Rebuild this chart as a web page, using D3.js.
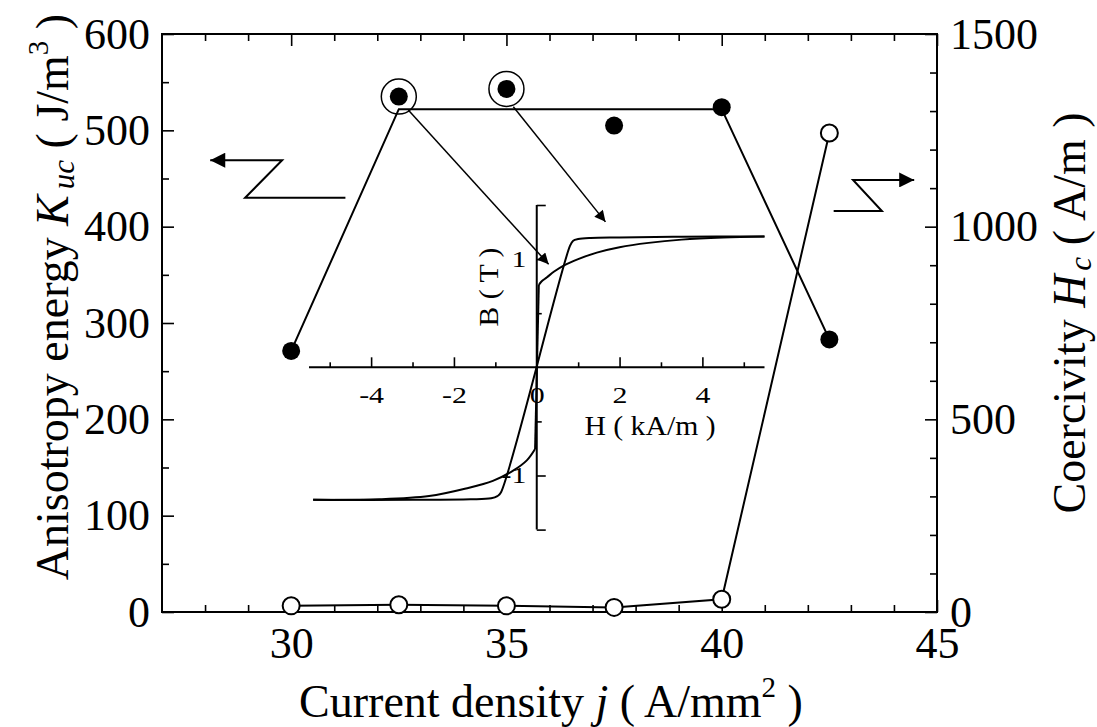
<!DOCTYPE html>
<html>
<head>
<meta charset="utf-8">
<script src="https://cdn.jsdelivr.net/npm/d3@7"></script>
<style>
  body { margin: 0; background: #fff; }
  svg text { font-family: "Times New Roman", "Liberation Serif", Tinos, "DejaVu Serif", serif; fill: #000; }
</style>
</head>
<body>
<script>
// main data: current density vs anisotropy energy (filled) and coercivity (open)
const currentDensity = [30, 32.5, 35, 37.5, 40, 42.5];
const anisotropyK = [271, 535, 543, 505, 524, 283];
const coercivityH = [16, 19, 16, 12, 33, 1243];

// guide line drawn through the filled points
const guideJ = [30, 32.5, 40, 42.5];
const guideK = [271, 522, 522, 283];

// points that are circled and pointed at the inset
const circledJ = [32.5, 35];

// tick values
const xMajor = [30, 35, 40, 45];
const xMinor = [28, 29, 31, 32, 33, 34, 36, 37, 38, 39, 41, 42, 43, 44];
const kMajor = [0, 100, 200, 300, 400, 500, 600];
const kMinor = [50, 150, 250, 350, 450, 550];
const hcMajor = [0, 500, 1000, 1500];
const hcMinor = [100, 200, 300, 400, 600, 700, 800, 900, 1100, 1200, 1300, 1400];

// inset: B-H loops
const loopA_H = [-5.4, -3.0, -1.6, -1.1, -0.95, -0.87, 0.8, 0.88, 1.0, 1.3, 2.0, 3.5, 5.5];
const loopA_B = [-1.225, -1.225, -1.22, -1.21, -1.19, -1.16, 1.12, 1.17, 1.185, 1.195, 1.2, 1.207, 1.21];
const loopB_upH = [0.05, 0.12, 0.24, 0.42, 0.65, 1.0, 1.45, 2.0, 2.7, 3.5, 4.5, 5.5];
const loopB_upB = [0.76, 0.795, 0.83, 0.885, 0.94, 1.0, 1.06, 1.11, 1.15, 1.18, 1.2, 1.21];
const loopB_jumpH = [-0.04, 0.05];
const loopB_jumpB = [-0.755, 0.76];
const loopB_loH = [-0.04, -0.24, -0.57, -1.06, -1.71, -2.6, -3.8, -5.4];
const loopB_loB = [-0.755, -0.86, -0.955, -1.05, -1.12, -1.19, -1.22, -1.225];
const insetHMajor = [-4, -2, 0, 2, 4];
const insetHMinor = [-5, -3, -1, 1, 3, 5];
const insetBMajor = [-1.5, -1, 1, 1.5];
const insetBMinor = [-0.5, 0.5];

const width = 1097, height = 727;
const serif = "'Times New Roman', 'Liberation Serif', Tinos, 'DejaVu Serif', serif";
const svg = d3.select("body").append("svg")
    .attr("width", width)
    .attr("height", height)
    .attr("font-family", serif);

const x = d3.scaleLinear().domain([27, 45]).range([162, 937]);
const yK = d3.scaleLinear().domain([0, 600]).range([612, 34]);
const yH = d3.scaleLinear().domain([0, 1500]).range([612, 34]);

// inset scales
const hx = d3.scaleLinear().domain([-5.5, 5.5]).range([309, 764.5]);
const by = d3.scaleLinear().domain([-1.5, 1.5]).range([529.6, 205]);

const plain = d => String(d);

// arrow heads
const defs = svg.append("defs");
function addHead(id, w, h) {
    defs.append("marker")
        .attr("id", id)
        .attr("viewBox", "0 0 10 10")
        .attr("refX", 10)
        .attr("refY", 5)
        .attr("markerUnits", "userSpaceOnUse")
        .attr("markerWidth", w)
        .attr("markerHeight", h)
        .attr("orient", "auto")
        .append("path")
        .attr("d", "M0,0 L10,5 L0,10 z")
        .attr("fill", "#000");
}
addHead("bigHead", 18, 15);
addHead("smallHead", 16, 11);

// ---------- axes ----------
function styleAxis(g, size) {
    g.attr("font-family", serif);
    g.select(".domain").remove();
    g.selectAll(".tick line").attr("stroke", "#000").attr("stroke-width", 1.6);
    g.selectAll("text")
        .style("font-family", serif)
        .attr("font-size", size)
        .attr("fill", "#000");
}

svg.append("g").attr("transform", "translate(162,0)")
    .call(d3.axisLeft(yK).tickValues(kMajor).tickSize(-12).tickPadding(12).tickFormat(plain))
    .call(g => styleAxis(g, 44));
svg.append("g").attr("transform", "translate(162,0)")
    .call(d3.axisLeft(yK).tickValues(kMinor).tickSize(-7).tickFormat(""))
    .call(g => styleAxis(g, 44));

svg.append("g").attr("transform", "translate(937,0)")
    .call(d3.axisRight(yH).tickValues(hcMajor).tickSize(-12).tickPadding(13).tickFormat(plain))
    .call(g => styleAxis(g, 44));
svg.append("g").attr("transform", "translate(937,0)")
    .call(d3.axisRight(yH).tickValues(hcMinor).tickSize(-7).tickFormat(""))
    .call(g => styleAxis(g, 44));

svg.append("g").attr("transform", "translate(0,612)")
    .call(d3.axisBottom(x).tickValues(xMajor).tickSize(-12).tickPadding(15).tickFormat(plain))
    .call(g => styleAxis(g, 44));
svg.append("g").attr("transform", "translate(0,612)")
    .call(d3.axisBottom(x).tickValues(xMinor).tickSize(-7).tickFormat(""))
    .call(g => styleAxis(g, 44));

svg.append("g").attr("transform", "translate(0,34)")
    .call(d3.axisTop(x).tickValues(xMajor).tickSize(-12).tickFormat(""))
    .call(g => styleAxis(g, 44));
svg.append("g").attr("transform", "translate(0,34)")
    .call(d3.axisTop(x).tickValues(xMinor).tickSize(-7).tickFormat(""))
    .call(g => styleAxis(g, 44));

// frame
svg.append("rect")
    .attr("x", 162).attr("y", 34)
    .attr("width", 937 - 162).attr("height", 612 - 34)
    .attr("fill", "none")
    .attr("stroke", "#000")
    .attr("stroke-width", 2);

// axis titles
const xTitle = svg.append("text")
    .attr("x", 551).attr("y", 717)
    .attr("text-anchor", "middle")
    .attr("font-size", 46);
xTitle.append("tspan").text("Current density ");
xTitle.append("tspan").attr("font-style", "italic").text("j");
xTitle.append("tspan").text(" ( A/mm");
xTitle.append("tspan").attr("font-size", 29).attr("dy", -20).text("2");
xTitle.append("tspan").attr("dy", 20).text(" )");

const yTitle = svg.append("text")
    .attr("transform", "translate(68,297) rotate(-90)")
    .attr("text-anchor", "middle")
    .attr("font-size", 46);
yTitle.append("tspan").text("Anisotropy energy ");
yTitle.append("tspan").attr("font-style", "italic").text("K");
yTitle.append("tspan").attr("font-style", "italic").attr("font-size", 31).attr("dx", 6).attr("dy", 6).text("uc");
yTitle.append("tspan").attr("dy", -6).text(" ( J/m");
yTitle.append("tspan").attr("font-size", 29).attr("dy", -20).text("3");
yTitle.append("tspan").attr("dy", 20).text(" )");

const y2Title = svg.append("text")
    .attr("transform", "translate(1085,313) rotate(-90)")
    .attr("text-anchor", "middle")
    .attr("font-size", 46);
y2Title.append("tspan").text("Coercivity ");
y2Title.append("tspan").attr("font-style", "italic").text("H");
y2Title.append("tspan").attr("font-style", "italic").attr("font-size", 31).attr("dx", 4).attr("dy", 6).text("c");
y2Title.append("tspan").attr("dy", -6).text(" ( A/m )");

// ---------- inset ----------
const inset = svg.append("g");

inset.append("g").attr("transform", `translate(0,${by(0)})`)
    .call(d3.axisBottom(hx).tickValues(insetHMajor).tickSize(-10).tickPadding(19).tickFormat(plain))
    .call(g => styleAxis(g, 23))
    .call(g => g.selectAll("text").attr("transform", "scale(1.3,1)"));
inset.append("g").attr("transform", `translate(0,${by(0)})`)
    .call(d3.axisBottom(hx).tickValues(insetHMinor).tickSize(-5).tickFormat(""))
    .call(g => styleAxis(g, 23));
inset.append("line")
    .attr("x1", hx(-5.5)).attr("x2", hx(5.5))
    .attr("y1", by(0)).attr("y2", by(0))
    .attr("stroke", "#000").attr("stroke-width", 2);

inset.append("g").attr("transform", `translate(${hx(0)},0)`)
    .call(d3.axisRight(by).tickValues(insetBMajor).tickSize(9)
        .tickFormat(d => Math.abs(d) === 1 ? String(d) : ""))
    .call(g => styleAxis(g, 23))
    .call(g => g.selectAll("text").attr("x", -8).attr("text-anchor", "end")
        .attr("transform", "scale(1.3,1)"));
inset.append("g").attr("transform", `translate(${hx(0)},0)`)
    .call(d3.axisRight(by).tickValues(insetBMinor).tickSize(5).tickFormat(""))
    .call(g => styleAxis(g, 23));
inset.append("line")
    .attr("x1", hx(0)).attr("x2", hx(0))
    .attr("y1", by(-1.5)).attr("y2", by(1.5))
    .attr("stroke", "#000").attr("stroke-width", 2);

inset.append("text")
    .attr("transform", "translate(650,435) scale(1.1,1)")
    .attr("text-anchor", "middle")
    .attr("font-size", 27)
    .text("H ( kA/m )");
inset.append("text")
    .attr("transform", "translate(498,287) rotate(-90) scale(1.1,1)")
    .attr("text-anchor", "middle")
    .attr("font-size", 27)
    .text("B ( T )");

const loopLine = d3.line()
    .x(d => hx(d[0]))
    .y(d => by(d[1]))
    .curve(d3.curveCatmullRom.alpha(0.5));
const straight = d3.line()
    .x(d => hx(d[0]))
    .y(d => by(d[1]));

const loops = [
    { line: loopLine, pts: d3.zip(loopA_H, loopA_B) },
    { line: loopLine, pts: d3.zip(loopB_upH, loopB_upB) },
    { line: straight, pts: d3.zip(loopB_jumpH, loopB_jumpB) },
    { line: loopLine, pts: d3.zip(loopB_loH, loopB_loB) }
];
loops.forEach(l => {
    inset.append("path")
        .attr("d", l.line(l.pts))
        .attr("fill", "none")
        .attr("stroke", "#000")
        .attr("stroke-width", 2);
});

// ---------- main series ----------
const kData = d3.zip(currentDensity, anisotropyK);
const hData = d3.zip(currentDensity, coercivityH);

svg.append("path")
    .attr("d", d3.line().x(d => x(d[0])).y(d => yK(d[1]))(d3.zip(guideJ, guideK)))
    .attr("fill", "none")
    .attr("stroke", "#000")
    .attr("stroke-width", 2);

svg.append("path")
    .attr("d", d3.line().x(d => x(d[0])).y(d => yH(d[1]))(hData))
    .attr("fill", "none")
    .attr("stroke", "#000")
    .attr("stroke-width", 2);

svg.selectAll(".kdot")
    .data(kData)
    .enter()
    .append("circle")
    .attr("class", "kdot")
    .attr("cx", d => x(d[0]))
    .attr("cy", d => yK(d[1]))
    .attr("r", 9)
    .attr("fill", "#000");

svg.selectAll(".hdot")
    .data(hData)
    .enter()
    .append("circle")
    .attr("class", "hdot")
    .attr("cx", d => x(d[0]))
    .attr("cy", d => yH(d[1]))
    .attr("r", 8.5)
    .attr("fill", "#fff")
    .attr("stroke", "#000")
    .attr("stroke-width", 2);

// rings around the two points linked to the inset
const ringData = kData.filter(d => circledJ.includes(d[0]));
svg.selectAll(".ring")
    .data(ringData)
    .enter()
    .append("circle")
    .attr("class", "ring")
    .attr("cx", d => x(d[0]))
    .attr("cy", d => yK(d[1]))
    .attr("r", 17.5)
    .attr("fill", "none")
    .attr("stroke", "#000")
    .attr("stroke-width", 1.5);

// arrows from rings to loops (data units: j, K)
const ringArrows = [
    [[32.72, 521], [35.98, 361]],
    [[35.16, 524.5], [37.3, 405]]
];
ringArrows.forEach(a => {
    svg.append("line")
        .attr("x1", x(a[0][0])).attr("y1", yK(a[0][1]))
        .attr("x2", x(a[1][0])).attr("y2", yK(a[1][1]))
        .attr("stroke", "#000")
        .attr("stroke-width", 1.5)
        .attr("marker-end", "url(#smallHead)");
});

// zig-zag arrows telling which axis each series uses
const leftZig = [[31.26, 430], [28.93, 430], [29.79, 469], [28.12, 469]];
const rightZig = [[42.6, 416.3], [43.72, 416.3], [43.05, 448.5], [44.47, 448.5]];
[leftZig, rightZig].forEach(z => {
    svg.append("path")
        .attr("d", d3.line().x(d => x(d[0])).y(d => yK(d[1]))(z))
        .attr("fill", "none")
        .attr("stroke", "#000")
        .attr("stroke-width", 2)
        .attr("marker-end", "url(#bigHead)");
});
</script>
</body>
</html>
